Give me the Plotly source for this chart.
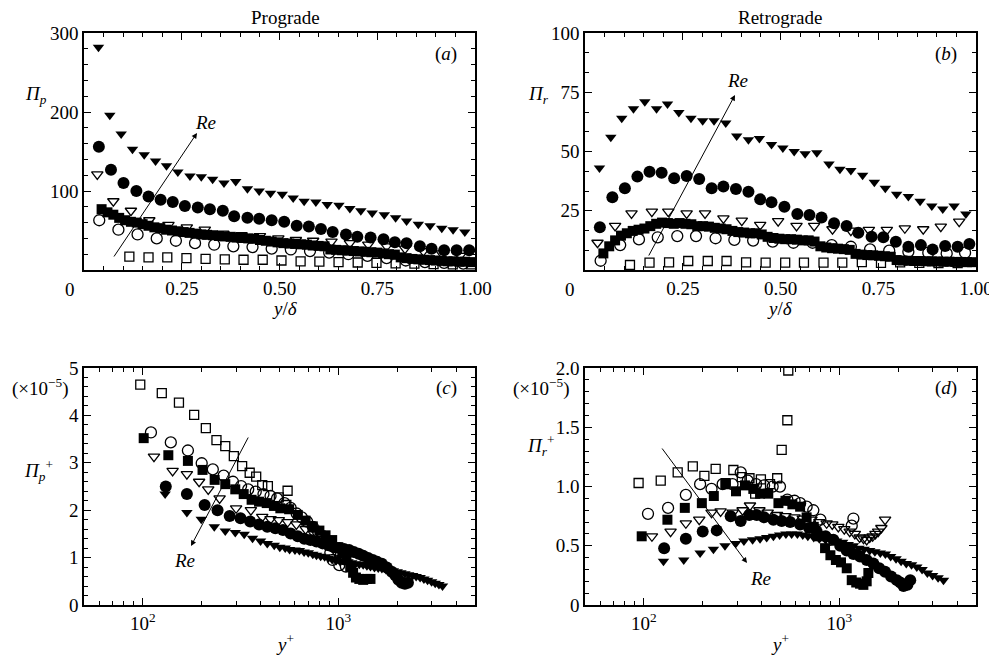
import plotly.graph_objects as go

W, H = 997, 662
OFF = 8  # default page body margin
FW, FH = W - OFF, H - OFF
def px(x): return (x - OFF) / FW
def py(y): return 1 - (y - OFF) / FH

FONT = "Liberation Serif"

# ---------------- Panel (a): Prograde, Pi_p vs y/delta ----------------
a_sqo_x = [0.116,0.165,0.213,0.262,0.311,0.360,0.408,0.457,0.505,0.554,0.602,0.651,0.700,0.748,0.797,0.845,0.894,0.943,0.990]
a_sqo_y = [17,16,16,15,14,13.5,13,13,12,11,10.5,10,9.5,9,8.5,8,7.5,7,7]
a_cio_x = [0.039,0.088,0.137,0.186,0.235,0.284,0.333,0.382,0.431,0.480,0.529,0.578,0.627,0.676,0.725,0.774,0.823,0.872,0.921,0.970]
a_cio_y = [63,51,45,40,37,34,32,30,29,27,26,24,22,20,18,15,12,10,9,8]
a_sqf_x = [0.045,0.06,0.075,0.09,0.105,0.12,0.135,0.15,0.165,0.18,0.195,0.21,0.225,0.24,0.255,0.27,0.285,0.30,0.315,0.33,
           0.345,0.36,0.375,0.39,0.405,0.42,0.435,0.45,0.465,0.48,0.495,0.51,0.525,0.54,0.555,0.57,0.585,0.60,0.615,0.63,
           0.645,0.66,0.675,0.69,0.705,0.72,0.735,0.75,0.765,0.78,0.795,0.81,0.825,0.84,0.855,0.87,0.885,0.90,0.915,0.93,
           0.945,0.96,0.975,0.99]
a_sqf_y = [77,73,70,66,63,61,60,58,56,54,53,51,50,49,48,47,46,45,44.5,44,
           43,42.5,42,41,40.5,40,39.5,38,37,36,35,34,33.5,33,32.5,32,31,30.5,30,26,
           25.5,25,24.5,24,23.5,23,22.5,22,21,20,19.5,16,15,14,13.5,13,12.5,12,11.5,11,
           11,10.5,10.5,10]
a_tro_x = [0.034,0.075,0.120,0.167,0.216,0.263,0.309,0.356,0.403,0.450,0.497,0.542,0.586,0.633,0.680,0.727,0.774,0.821,0.868,0.915,0.962]
a_tro_y = [121,87,75,63,57,54,51,46,44,43,40,38,37,36,34,32,30,27,24,21,18]
a_cif_x = [0.038,0.069,0.101,0.134,0.165,0.196,0.227,0.258,0.291,0.322,0.355,0.384,0.418,0.448,0.480,0.512,0.544,0.575,0.606,0.636,
           0.670,0.699,0.733,0.766,0.795,0.825,0.859,0.889,0.921,0.953,0.985]
a_cif_y = [156,127,110,100,93,89,86,81,79,77,75,68,66,65,63,61,56,55,52,48,45,42,41,39,35,34,30,27,25,25,25]
a_trf_x = [0.037,0.066,0.095,0.124,0.154,0.183,0.211,0.240,0.271,0.300,0.329,0.358,0.388,0.418,0.448,0.477,0.507,0.535,0.563,0.593,
           0.622,0.652,0.680,0.708,0.737,0.768,0.797,0.825,0.855,0.885,0.915,0.944,0.974]
a_trf_y = [282,196,172,153,146,138,132,124,119,118,115,110,112,103,100,97,96,91,87,86,83,82,78,75,72,70,66,62,58,56,53,51,48]

# ---------------- Panel (b): Retrograde, Pi_r vs y/delta ----------------
b_sqo_x = [0.115,0.165,0.215,0.264,0.314,0.362,0.412,0.462,0.512,0.560,0.610,0.658,0.708,0.757,0.806,0.855,0.904,0.953]
b_sqo_y = [2.1,3.1,3.2,3.8,3.8,3.8,3.2,3.1,3.1,3.1,3.1,3.1,3.3,3.0,3.2,3.0,2.9,2.9]
b_cio_x = [0.040,0.090,0.138,0.186,0.236,0.284,0.334,0.382,0.430,0.480,0.533,0.582,0.631,0.680,0.729,0.778,0.827,0.878,0.925,0.972]
b_cio_y = [3.9,10.5,12.9,13.8,14.3,14.3,13.4,12.7,12.4,12,11.5,11.5,10.5,9.8,8.7,8.2,7.7,7.3,7,7.3]
b_sqf_x = [0.047,0.062,0.077,0.092,0.107,0.122,0.137,0.152,0.167,0.182,0.197,0.212,0.227,0.242,0.257,0.272,0.287,0.302,0.317,0.332,
           0.347,0.362,0.377,0.392,0.407,0.422,0.437,0.452,0.467,0.482,0.497,0.512,0.527,0.542,0.557,0.572,0.587,0.602,0.617,0.632,
           0.647,0.662,0.677,0.692,0.707,0.722,0.737,0.752,0.767,0.782,0.797,0.812,0.827,0.842,0.857,0.872,0.887,0.902,0.917,0.932,
           0.947,0.962,0.977,0.990]
b_sqf_y = [7,10,12.5,14.5,15.5,16.5,17,17.5,18.5,19.5,20,19.8,19.5,19.8,19.5,19.3,18.5,18.5,18.3,17.8,
           17.5,17.2,16.5,16,15.8,15.5,15.5,15,14,13.5,13.2,13,13,12.8,12.5,12.5,12,10,9.5,9.2,
           9,8.8,8.5,6.8,6.5,6.3,6.2,6,5.8,5.6,4.2,4,3.9,3.8,3.8,3.7,3.6,3.6,3.5,3.5,
           3.4,3.4,3.3,3.3]
b_tro_x = [0.032,0.077,0.119,0.171,0.213,0.260,0.307,0.354,0.401,0.448,0.494,0.541,0.586,0.633,0.680,0.726,0.772,0.818,0.865,0.910,0.957]
b_tro_y = [11.5,18.6,23.9,24.6,24.6,23.9,23.9,21.8,20.8,19,20.6,18.6,18.6,17.2,16.6,16.9,16.9,17.6,17.2,18.3,20.4]
b_cif_x = [0.038,0.070,0.102,0.134,0.165,0.196,0.228,0.260,0.292,0.324,0.354,0.386,0.418,0.448,0.477,0.510,0.543,0.574,0.605,0.637,
           0.669,0.699,0.733,0.763,0.795,0.827,0.859,0.889,0.921,0.953,0.983]
b_cif_y = [18,30.7,34.5,39.4,41.5,41,38.7,39.7,38.4,34.5,35.2,34.2,33,29.8,28.6,26.7,23.6,23.2,22.2,19.7,
           18.6,15.7,14,13.8,11.9,9.8,10.5,8.7,10.1,9.8,11]
b_trf_x = [0.037,0.066,0.094,0.124,0.153,0.183,0.211,0.240,0.271,0.301,0.330,0.360,0.388,0.418,0.446,0.477,0.506,0.535,0.563,0.593,
           0.624,0.652,0.680,0.710,0.740,0.768,0.797,0.827,0.857,0.887,0.915,0.944,0.974]
b_trf_y = [43,56,64,68,71,68,70,66.5,64,63,63,62,56.5,55,55.5,53,51.5,50,49,49.5,44.7,42.5,42,40,37,34.5,32,31,29,27,25.7,27,23.6]

# ---------------- Panel (c): Pi_p^+ (x1e-5) vs y+ ----------------
c_sqo_x = [97,125,153,183,210,238,264,292,322,352,380,408,436,496,542,550]
c_sqo_y = [4.65,4.47,4.27,4.01,3.73,3.48,3.35,3.14,2.93,2.79,2.71,2.53,2.51,2.27,2.11,2.41]
c_cio_x = [110,139,170,200,228,259,289,318,346,378,414,450,486,530,570,612,650,692,740,787,835,883,910,935,1011,1093]
c_cio_y = [3.64,3.43,3.26,2.99,2.86,2.73,2.60,2.51,2.44,2.39,2.34,2.30,2.25,2.15,2.05,1.93,1.85,1.76,1.65,1.55,1.45,1.30,1.10,0.95,0.84,0.81]
c_sqf_x = [101,135,170,202,233,264,297,328,360,393,430,468,505,560,620,680,740,800,860,930,1000,1050,1100,1150,1190,1230,1280,1340,1400,1460]
c_sqf_y = [3.52,3.16,3.04,2.85,2.64,2.55,2.44,2.34,2.22,2.18,2.15,2.09,2.04,2.02,1.90,1.78,1.66,1.57,1.47,1.37,1.22,1.09,0.95,0.80,0.68,0.58,0.55,0.53,0.55,0.55]
c_tro_x = [114,142,168,194,216,247,300,357,408,450,496,550,610,680,750,830,900,980,1050]
c_tro_y = [3.13,2.83,2.76,2.60,2.44,2.25,2.04,2.00,1.86,1.81,1.79,1.75,1.70,1.60,1.50,1.40,1.25,1.10,1.00]
c_cif_x = [131,168,207,241,278,316,354,393,433,476,521,570,620,670,720,773,830,890,950,1010,1070,1135,1200,1270,1340,1420,1500,1580,1670,1770,1875,1960,2030,2110,2190,2270]
c_cif_y = [2.50,2.34,2.11,2.00,1.88,1.83,1.76,1.70,1.65,1.62,1.58,1.51,1.45,1.40,1.37,1.34,1.30,1.26,1.22,1.20,1.18,1.16,1.12,1.08,1.04,0.99,0.95,0.91,0.87,0.79,0.70,0.62,0.53,0.47,0.45,0.47]
c_trf_x = [130,168,199,232,264,297,330,364,400,433,470,502,535,563,600,632,668,702,740,773,812,851,890,930,975,1020,1070,1120,1170,1225,
           1280,1340,1400,1460,1530,1600,1670,1750,1830,1910,2000,2090,2190,2290,2400,2500,2620,2740,2860,3000,3130,3270,3410]
c_trf_y = [2.34,1.95,1.81,1.65,1.56,1.53,1.49,1.41,1.35,1.30,1.26,1.22,1.20,1.17,1.16,1.15,1.12,1.10,1.07,1.05,1.03,1.02,0.99,0.96,0.94,0.92,0.93,0.91,0.89,0.87,
           0.86,0.85,0.83,0.81,0.79,0.78,0.77,0.75,0.73,0.72,0.70,0.68,0.66,0.64,0.62,0.60,0.58,0.55,0.52,0.49,0.46,0.43,0.40]

# ---------------- Panel (d): Pi_r^+ (x1e-5) vs y+ ----------------
d_sqo_x = [94,122,149,178,204,233,262,287,317,347,371,397,442,481,507,542,548]
d_sqo_y = [1.03,1.05,1.12,1.17,1.09,1.15,1.02,1.14,1.08,1.07,0.94,1.06,1.02,1.07,1.31,1.56,1.98]
d_cio_x = [105,133,164,194,222,253,284,313,340,375,412,456,497,542,590,630,680,736,800,896,1157,1180]
d_cio_y = [0.77,0.82,0.93,1.02,0.98,1.02,1.02,1.12,1.05,1.02,1.01,1.00,1.00,0.89,0.88,0.86,0.83,0.80,0.72,0.55,0.67,0.73]
d_sqf_x = [97.5,132,162,198,228,262,296,329,363,393,433,488,530,575,630,680,740,796,845,900,960,1020,1091,1157,1220,1276,1327,1380,1407]
d_sqf_y = [0.58,0.72,0.82,0.86,0.92,1.03,0.96,1.01,0.98,0.94,0.94,0.86,0.88,0.85,0.83,0.74,0.66,0.58,0.48,0.42,0.38,0.36,0.31,0.21,0.19,0.18,0.17,0.20,0.27]
d_tro_x = [110,137,164,192,222,247,285,320,349,390,430,480,530,590,650,720,790,861,920,988,1060,1130,1200,1270,1330,1380,1430,1480,1530,1580,1640,1714]
d_tro_y = [0.58,0.62,0.69,0.72,0.78,0.79,0.78,0.80,0.84,0.80,0.78,0.76,0.75,0.74,0.73,0.72,0.70,0.69,0.68,0.66,0.64,0.62,0.60,0.57,0.56,0.55,0.57,0.58,0.60,0.62,0.65,0.72]
d_cif_x = [127,164,200,236,278,313,346,378,412,460,507,560,630,700,766,850,932,1010,1091,1180,1276,1380,1493,1600,1714,1840,1968,2050,2129,2230,2305]
d_cif_y = [0.48,0.56,0.62,0.63,0.75,0.71,0.76,0.76,0.74,0.72,0.71,0.70,0.68,0.65,0.62,0.58,0.55,0.50,0.46,0.43,0.41,0.38,0.35,0.31,0.28,0.24,0.21,0.19,0.16,0.17,0.21]
d_trf_x = [126,160,194,227,260,295,325,360,393,425,460,495,533,570,610,650,690,740,790,850,910,970,1040,1110,1180,1260,1340,1430,1520,1620,
           1720,1830,1950,2070,2200,2340,2490,2650,2820,3000,3200,3410]
d_trf_y = [0.37,0.38,0.44,0.47,0.50,0.52,0.54,0.55,0.56,0.57,0.58,0.59,0.60,0.60,0.60,0.59,0.58,0.57,0.56,0.55,0.55,0.54,0.53,0.51,0.50,0.48,0.47,0.46,0.45,0.44,
           0.43,0.41,0.39,0.37,0.35,0.34,0.32,0.30,0.27,0.25,0.23,0.21]

STYLES = {
    "sqo": dict(symbol="square-open", size=9, color="black", line=dict(width=1.3, color="black")),
    "cio": dict(symbol="circle-open", size=11, color="black", line=dict(width=1.3, color="black")),
    "tro": dict(symbol="triangle-down-open", size=10, color="black", line=dict(width=1.3, color="black")),
    "sqf": dict(symbol="square", size=10, color="black"),
    "cif": dict(symbol="circle", size=12, color="black"),
    "trf": dict(symbol="triangle-down", size=10, color="black"),
}

panels = [
    ("x", "y", [("sqo", a_sqo_x, a_sqo_y), ("cio", a_cio_x, a_cio_y), ("tro", a_tro_x, a_tro_y),
                ("sqf", a_sqf_x, a_sqf_y), ("cif", a_cif_x, a_cif_y), ("trf", a_trf_x, a_trf_y)]),
    ("x2", "y2", [("sqo", b_sqo_x, b_sqo_y), ("cio", b_cio_x, b_cio_y), ("tro", b_tro_x, b_tro_y),
                  ("sqf", b_sqf_x, b_sqf_y), ("cif", b_cif_x, b_cif_y), ("trf", b_trf_x, b_trf_y)]),
    ("x3", "y3", [("sqo", c_sqo_x, c_sqo_y), ("cio", c_cio_x, c_cio_y), ("tro", c_tro_x, c_tro_y),
                  ("sqf", c_sqf_x, c_sqf_y), ("cif", c_cif_x, c_cif_y), ("trf", c_trf_x, c_trf_y)]),
    ("x4", "y4", [("sqo", d_sqo_x, d_sqo_y), ("cio", d_cio_x, d_cio_y), ("tro", d_tro_x, d_tro_y),
                  ("sqf", d_sqf_x, d_sqf_y), ("cif", d_cif_x, d_cif_y), ("trf", d_trf_x, d_trf_y)]),
]

fig = go.Figure()
for xa, ya, series in panels:
    for key, xs, ys in series:
        fig.add_trace(go.Scatter(x=xs, y=ys, mode="markers", xaxis=xa, yaxis=ya,
                                 marker=STYLES[key], showlegend=False, hoverinfo="skip"))

common = dict(showline=True, linecolor="black", linewidth=1.5, mirror="ticks",
              ticks="inside", ticklen=7, tickwidth=1.2, tickcolor="black",
              showgrid=False, zeroline=False, automargin=False,
              tickfont=dict(family=FONT, size=19, color="black"))

def minor_lin(d):
    return dict(dtick=d, ticks="inside", ticklen=4, tickwidth=1, tickcolor="black", showgrid=False)

log_minor = dict(tickvals=[60, 70, 80, 90, 200, 300, 400, 500, 600, 700, 800, 900, 2000, 3000, 4000],
                 ticks="inside", ticklen=4, tickwidth=1, tickcolor="black", showgrid=False)

xl, xr = px(84), px(475)
xl2, xr2 = px(585), px(976)
yt_top, yb_top = py(33), py(270)
yt_bot, yb_bot = py(368), py(605)

lin_x = dict(range=[0, 1], tickvals=[0.25, 0.5, 0.75, 1.0], ticktext=["0.25", "0.50", "0.75", "1.00"],
             minor=minor_lin(0.05))
log_x = dict(type="log", range=[1.699, 3.699], tickvals=[100, 1000],
             ticktext=["10<sup>2</sup>", "10<sup>3</sup>"], minor=log_minor)

fig.update_layout(
    width=FW, height=FH, margin=dict(l=0, r=0, t=0, b=0, pad=0), autosize=False,
    paper_bgcolor="white", plot_bgcolor="white",
    font=dict(family=FONT, size=19, color="black"),
    xaxis=dict(common, **lin_x, domain=[xl, xr], anchor="y"),
    yaxis=dict(common, range=[0, 300], tickvals=[100, 200, 300], minor=minor_lin(20),
               domain=[yb_top, yt_top], anchor="x"),
    xaxis2=dict(common, **lin_x, domain=[xl2, xr2], anchor="y2"),
    yaxis2=dict(common, range=[0, 100], tickvals=[25, 50, 75, 100], minor=minor_lin(25 / 3),
                domain=[yb_top, yt_top], anchor="x2"),
    xaxis3=dict(common, **log_x, domain=[xl, xr], anchor="y3"),
    yaxis3=dict(common, range=[0, 5], tickvals=[0, 1, 2, 3, 4, 5], minor=minor_lin(0.2),
                domain=[yb_bot, yt_bot], anchor="x3"),
    xaxis4=dict(common, **log_x, domain=[xl2, xr2], anchor="y4"),
    yaxis4=dict(common, range=[0, 2.001], tickvals=[0, 0.5, 1.0, 1.5, 2.0],
                ticktext=["0", "0.5", "1.0", "1.5", "2.0"], minor=minor_lin(0.1),
                domain=[yb_bot, yt_bot], anchor="x4"),
)

def text(x, y, s, size=19):
    fig.add_annotation(x=px(x), y=py(y), xref="paper", yref="paper", text=s, showarrow=False,
                       font=dict(family=FONT, size=size, color="black"), xanchor="center", yanchor="middle")

text(285, 17, "Prograde")
text(780, 17, "Retrograde")
text(70, 289, "0")
text(570, 289, "0")
text(285, 308, "<i>y</i>/<i>δ</i>")
text(780, 308, "<i>y</i>/<i>δ</i>")
text(285, 643, "<i>y</i><sup>+</sup>")
text(780, 643, "<i>y</i><sup>+</sup>")
text(36, 95, "<i>Π</i><sub><i>p</i></sub>")
text(538, 95, "<i>Π</i><sub><i>r</i></sub>")
text(40, 387, "(×10<sup>−5</sup>)")
text(541, 387, "(×10<sup>−5</sup>)")
text(38, 470, "<i>Π</i><sub><i>p</i></sub><sup>+</sup>")
text(540, 445, "<i>Π</i><sub><i>r</i></sub><sup>+</sup>")
text(446, 54, "(<i>a</i>)")
text(946, 54, "(<i>b</i>)")
text(446, 388, "(<i>c</i>)")
text(946, 388, "(<i>d</i>)")

def arrow(hx, hy, tx, ty):
    fig.add_annotation(x=px(hx), y=py(hy), xref="paper", yref="paper", ax=tx - hx, ay=ty - hy,
                       axref="pixel", ayref="pixel", text="", showarrow=True,
                       arrowhead=2, arrowsize=1.1, arrowwidth=1, arrowcolor="black")

arrow(197, 133, 113, 258); text(205, 122, "<i>Re</i>")
arrow(735, 95, 648, 257); text(737, 81, "<i>Re</i>")
arrow(191, 546, 249, 436); text(184, 560, "<i>Re</i>")
arrow(747, 563, 661, 447); text(760, 578, "<i>Re</i>")

fig.write_html("out.html", config={"responsive": False})
